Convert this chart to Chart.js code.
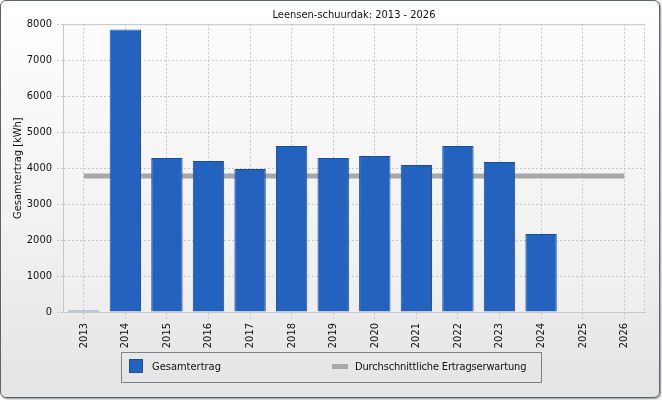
<!DOCTYPE html>
<html>
<head>
<meta charset="utf-8">
<script src="https://cdn.jsdelivr.net/npm/chart.js@4/dist/chart.umd.min.js"></script>
<style>
  html, body { margin: 0; padding: 0; background: #ffffff; }
  #frame {
    position: absolute; left: 0; top: 0; width: 660px; height: 398px;
    box-sizing: border-box; border: 1px solid #58646e; border-radius: 6px;
    background: linear-gradient(to bottom, #ffffff 0%, #f2f2f2 55%, #e4e4e4 100%);
    box-shadow: 1px 1px 2px rgba(0,0,0,0.45);
  }
  #wrap { position: absolute; left: 0; top: 0; width: 662px; height: 400px; }
  #legend {
    position: absolute; left: 121px; top: 352px; width: 421px; height: 31px;
    box-sizing: border-box; border: 1px solid #7a838b;
    font-family: "DejaVu Sans Condensed", "DejaVu Sans", sans-serif; font-size: 11px; color: #111;
  }
  .sw1 { position: absolute; left: 7px; top: 6px; width: 14px; height: 14px; box-sizing: border-box;
         background: #2462c0; border: 1px solid #1d4c98; }
  .sw2 { position: absolute; left: 210px; top: 11px; width: 16px; height: 5px; background: #a8a8a8; }
  .t1 { position: absolute; left: 30px; top: 7px; white-space: nowrap; }
  .t2 { position: absolute; left: 233px; top: 7px; white-space: nowrap; letter-spacing: -0.15px; }
</style>
</head>
<body>
<div id="frame"></div>
<div id="wrap"><canvas id="c" width="662" height="400"></canvas></div>
<div id="legend">
  <div class="sw1"></div><div class="t1">Gesamtertrag</div>
  <div class="sw2"></div><div class="t2">Durchschnittliche Ertragserwartung</div>
</div>
<script>
const years = ["2013","2014","2015","2016","2017","2018","2019","2020","2021","2022","2023","2024","2025","2026"];
const gesamtertrag = [40, 7850, 4280, 4200, 3975, 4615, 4280, 4335, 4085, 4615, 4170, 2165, null, null];
const ertragserwartung = [3780, 3780, 3780, 3780, 3780, 3780, 3780, 3780, 3780, 3780, 3780, 3780, 3780, 3780];
const yTicks = [0, 1000, 2000, 3000, 4000, 5000, 6000, 7000, 8000];
const chartTitle = "Leensen-schuurdak: 2013 - 2026";
const yTitle = "Gesamtertrag [kWh]";

const FONT = "'DejaVu Sans Condensed', 'DejaVu Sans', sans-serif";

const plotDecor = {
  id: 'plotDecor',
  beforeDraw(chart) {
    const {ctx, chartArea: a} = chart;
    ctx.save();
    const g = ctx.createLinearGradient(0, a.top, 0, a.bottom);
    g.addColorStop(0, '#fcfcfc');
    g.addColorStop(1, '#eeeeee');
    ctx.fillStyle = g;
    ctx.fillRect(a.left, a.top, a.right - a.left, a.bottom - a.top);
    ctx.restore();
  },
  afterDraw(chart) {
    const {ctx, chartArea: a} = chart;
    ctx.save();
    ctx.strokeStyle = '#c8c8c8';
    ctx.lineWidth = 1;
    ctx.beginPath();
    ctx.moveTo(a.left, a.top + 0.5);
    ctx.lineTo(a.right, a.top + 0.5);
    ctx.stroke();
    ctx.setLineDash([2, 2]);
    ctx.beginPath();
    ctx.moveTo(a.right - 0.5, a.top);
    ctx.lineTo(a.right - 0.5, a.bottom);
    ctx.stroke();
    ctx.restore();
  }
};

new Chart(document.getElementById('c'), {
  type: 'bar',
  data: {
    labels: years,
    datasets: [
      {
        type: 'bar',
        label: 'Gesamtertrag',
        data: gesamtertrag,
        backgroundColor: '#2462c0',
        borderColor: '#1d4c98',
        borderWidth: 1,
        categoryPercentage: 1.0,
        barPercentage: 0.755,
        order: 1
      },
      {
        type: 'line',
        label: 'Durchschnittliche Ertragserwartung',
        data: ertragserwartung,
        borderColor: '#a8a8a8',
        borderWidth: 5,
        pointRadius: 0,
        fill: false,
        tension: 0,
        order: 2
      }
    ]
  },
  options: {
    responsive: false,
    animation: false,
    devicePixelRatio: 1,
    layout: { padding: { left: 0, right: 17, top: 0, bottom: 0 } },
    plugins: {
      legend: { display: false },
      tooltip: { enabled: false },
      title: {
        display: true,
        text: chartTitle,
        fullSize: false,
        color: '#111111',
        font: { family: FONT, size: 11, weight: 'normal', lineHeight: 1.2 },
        padding: { top: 9, bottom: 2 }
      }
    },
    scales: {
      x: {
        offset: true,
        grid: {
          offset: false,
          color: '#c8c8c8',
          tickColor: '#c8c8c8',
          tickBorderDash: [2, 2],
          tickLength: 8,
          drawTicks: true
        },
        border: { display: true, color: '#c8c8c8', dash: [2, 2] },
        ticks: {
          color: '#111111',
          font: { family: FONT, size: 11 },
          minRotation: 90,
          maxRotation: 90,
          padding: 3,
          autoSkip: false
        },
        afterFit(scale) { scale.height = 88; }
      },
      y: {
        min: 0,
        max: 8000,
        afterBuildTicks(scale) { scale.ticks = yTicks.map(v => ({ value: v })); },
        grid: {
          color: '#c8c8c8',
          tickColor: '#c8c8c8',
          tickBorderDash: [2, 2],
          tickLength: 6
        },
        border: { display: true, color: '#c8c8c8', dash: [2, 2] },
        ticks: {
          color: '#111111',
          font: { family: FONT, size: 11 },
          padding: 5,
          callback: (v) => String(v)
        },
        title: {
          display: true,
          text: yTitle,
          color: '#111111',
          font: { family: FONT, size: 11 },
          padding: { top: 12, bottom: 0 }
        },
        afterFit(scale) { scale.width = 63; }
      }
    }
  },
  plugins: [plotDecor]
});
</script>
</body>
</html>
